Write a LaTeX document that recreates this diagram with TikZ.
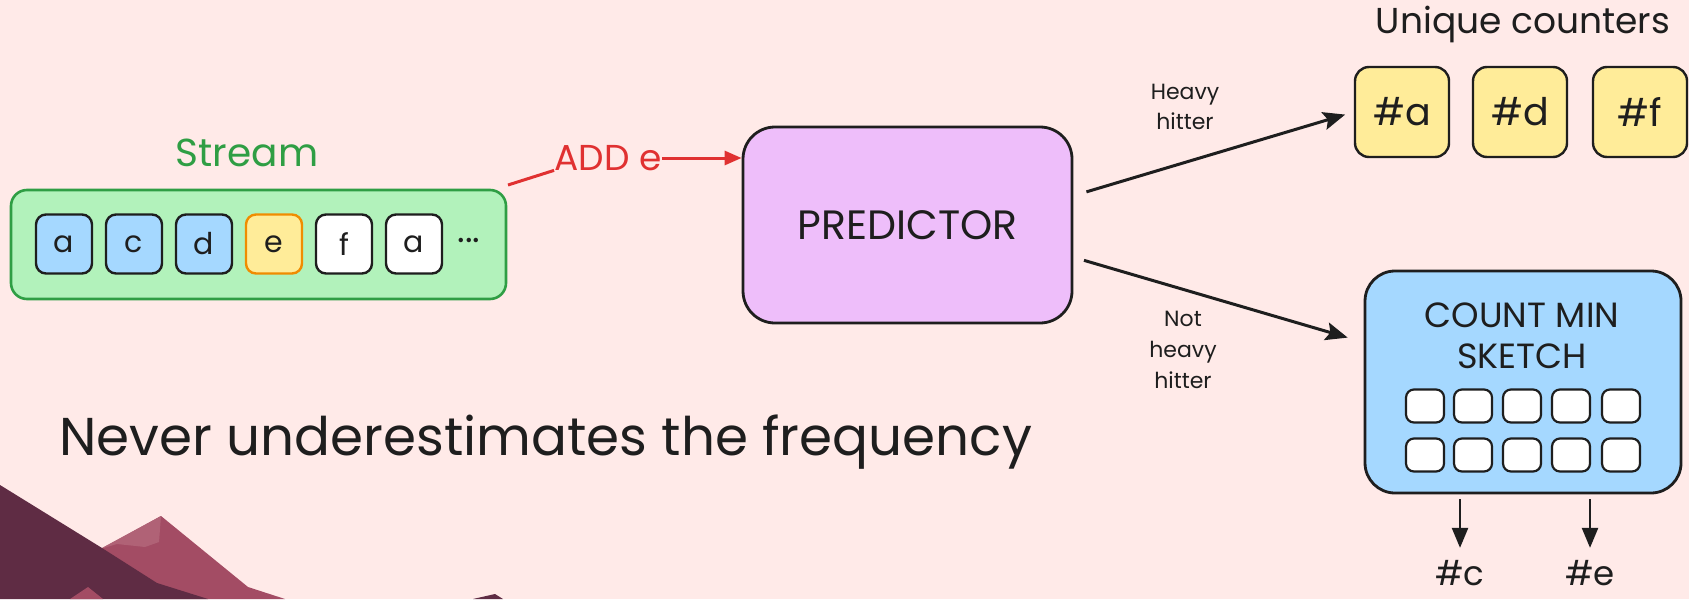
\documentclass[tikz,border=0pt]{standalone}
\usepackage{fontspec}
\setmainfont{Poppins}
\usetikzlibrary{arrows.meta}

\definecolor{bgpink}{HTML}{FFEAE8}
\definecolor{ink}{HTML}{1E1E1E}
\definecolor{streamgreen}{HTML}{2F9E44}
\definecolor{streamfill}{HTML}{B2F2BB}
\definecolor{cellblue}{HTML}{A5D8FF}
\definecolor{cellyellow}{HTML}{FFEC99}
\definecolor{cellorange}{HTML}{F08C00}
\definecolor{predfill}{HTML}{EEBEFA}
\definecolor{addred}{HTML}{E03131}
\definecolor{hilldark}{HTML}{5F2C44}
\definecolor{hillmid}{HTML}{A34C64}
\definecolor{hilllight}{HTML}{B06276}

\begin{document}
\begin{tikzpicture}[x=0.5pt,y=-0.5pt]
\tikzstyle{every node}+=[inner sep=0pt,text=ink]
\tikzstyle{cell}=[draw=ink,line width=1.2pt,rounded corners=5pt,minimum width=28pt,minimum height=29.5pt,font=\fontsize{15}{15}\selectfont]
\tikzstyle{counter}=[draw=ink,fill=cellyellow,line width=1.2pt,rounded corners=7pt,minimum width=47pt,minimum height=45pt,font=\fontsize{19}{19}\selectfont]
\tikzstyle{slot}=[draw=ink,fill=white,line width=1.1pt,rounded corners=4pt,minimum width=19pt,minimum height=16.5pt]
\tikzstyle{flow}=[draw=ink,line width=1.5pt,-{Stealth[length=11pt,width=9pt,inset=2pt]}]
\tikzstyle{outflow}=[draw=ink,line width=1.2pt,-{Triangle[length=10pt,width=8pt]}]
\tikzstyle{small}=[align=center,font=\fontsize{11}{15}\selectfont]

% page and hills
\fill [bgpink] (0,0) rectangle (1689,599);
\useasboundingbox (0,0) rectangle (1689,599);
\fill [hillmid] (92,554) -- (161,516) -- (248,587) -- (285,599) -- (150,599) -- cycle;
\fill [hilllight] (161,516) -- (100,549) -- (117,544) -- (145,547) -- (159,542) -- cycle;
\fill [hilldark] (0,485) -- (102,548) -- (157,583) -- (208,599) -- (0,599) -- cycle;
\fill [hillmid] (70,599) -- (88,587) -- (103,599) -- cycle;
\fill [hilldark] (473,599) -- (495,594) -- (503,599) -- cycle;

% stream of items
\node [text=streamgreen,font=\fontsize{19.5}{19.5}\selectfont] (streamlbl) at (247,153) {Stream};
\node [draw=streamgreen,fill=streamfill,line width=1.3pt,rounded corners=8pt,minimum width=247.5pt,minimum height=54.5pt] (stream) at (258.5,244.5) {};
\node [cell,fill=cellblue] (s1) at (64,244) {a};
\node [cell,fill=cellblue] (s2) at (134,244) {c};
\node [cell,fill=cellblue] (s3) at (204,244) {d};
\node [cell,fill=cellyellow,draw=cellorange] (s4) at (274,244) {e};
\node [cell,fill=white] (s5) at (344,244) {f};
\node [cell,fill=white] (s6) at (414,244) {a};
\node [font=\fontsize{18}{18}\selectfont] (more) at (469,240) {...};

% predictor
\node [draw=ink,fill=predfill,line width=1.4pt,rounded corners=16pt,minimum width=164.5pt,minimum height=98pt,font=\fontsize{20.5}{20.5}\selectfont] (pred) at (907.5,225) {PREDICTOR};

% item being added
\coordinate (addtail) at (508,185);
\node [text=addred,font=\fontsize{18}{18}\selectfont] (add) at (608,158) {ADD e};
\draw [addred,line width=1.5pt] (addtail) -- (add.base west);
\draw [addred,line width=1.5pt,-{Triangle[length=8.5pt,width=7pt]}] (add.east) -- (add.east -| pred.west);

% heavy hitters
\node [font=\fontsize{18}{18}\selectfont] (uniq) at (1523,24) {Unique counters};
\node [counter] (cnta) at (1402,112) {\#a};
\node [counter] (cntd) at (1520,112) {\#d};
\node [counter] (cntf) at (1640,112) {\#f};
\draw [flow,shorten <=6.8pt,shorten >=4.5pt] (pred.10) -- (cnta.west);
\node [small] (heavy) at (1185,107) {Heavy\\hitter};

% everything else
\node [draw=ink,fill=cellblue,line width=1.4pt,rounded corners=15pt,minimum width=158pt,minimum height=111pt] (cms) at (1523,382) {};
\node [align=center,font=\fontsize{17.5}{20.5}\selectfont] (cmslbl) at (1522,336) {COUNT MIN\\SKETCH};
\foreach \c [count=\i] in {1425,1473,1522,1571,1621} {
  \node [slot] (ra\i) at (\c,406) {};
  \node [slot] (rb\i) at (\c,455) {};
}
\draw [flow,shorten <=5.5pt,shorten >=8.3pt] (pred.-11) -- (cms.166);
\node [small,font=\fontsize{11}{15.5}\selectfont] (notheavy) at (1183,350) {Not\\heavy\\hitter};

% estimates read back
\node [font=\fontsize{17}{17}\selectfont] (estc) at (1460,573) {\#c};
\node [font=\fontsize{17}{17}\selectfont] (este) at (1590,573) {\#e};
\draw [outflow,shorten <=2.5pt,shorten >=6pt] (estc.north |- cms.south) -- (estc.north);
\draw [outflow,shorten <=2.5pt,shorten >=6pt] (este.north |- cms.south) -- (este.north);

\node [anchor=base west,font=\fontsize{26.6}{26.6}\selectfont] (note) at (59,455) {Never underestimates the frequency};
\end{tikzpicture}
\end{document}
